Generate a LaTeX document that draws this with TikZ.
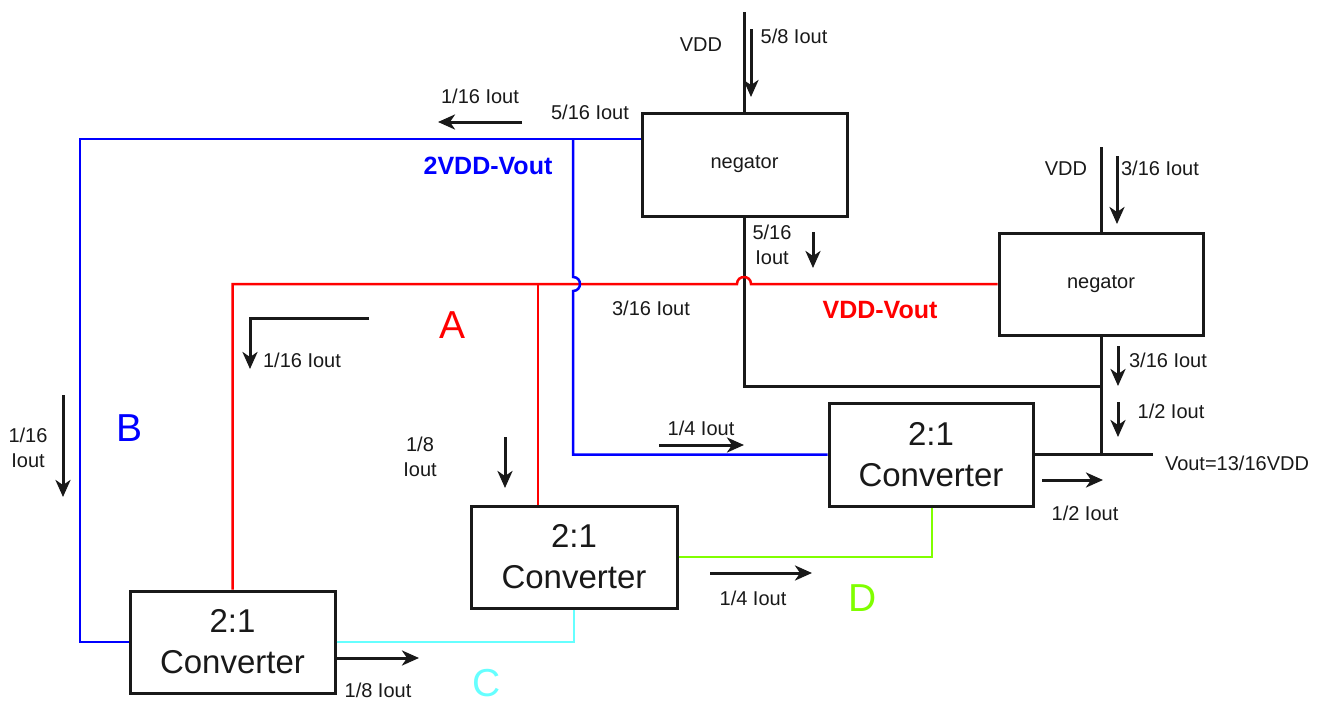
\documentclass[tikz,border=0pt]{standalone}
\usepackage{fontspec}
\setmainfont{Liberation Sans}
\usetikzlibrary{arrows.meta}
\definecolor{wblue}{RGB}{0,0,255}
\definecolor{wred}{RGB}{255,0,0}
\definecolor{wcyan}{RGB}{102,255,255}
\definecolor{wgreen}{RGB}{128,255,0}
\definecolor{ink}{RGB}{25,25,25}
\begin{document}
\begin{tikzpicture}[x=1pt,y=-1pt,
  box/.style={draw=ink, line width=3pt, inner sep=0pt, align=center, text=ink, font=\fontsize{20}{24}\selectfont},
  conv/.style={box, font=\fontsize{33}{41}\selectfont},
  lbl/.style={text=ink, inner sep=0pt, align=center, font=\fontsize{20}{25}\selectfont},
  boldlbl/.style={inner sep=0pt, font=\fontsize{25}{28}\selectfont\bfseries},
  letter/.style={inner sep=0pt, font=\fontsize{39}{40}\selectfont},
  wire/.style={line width=2.5pt},
  blk/.style={draw=ink, line width=3pt},
  arr/.style={ink, line width=3pt, -{Stealth[length=17pt,width=15pt,inset=5pt]}},
]
\useasboundingbox (0,0) rectangle (1318,705);

% boxes
\node[box, minimum width=205, minimum height=103] (neg1) at (744.5,164.5) {negator};
\node[box, minimum width=204, minimum height=102] (neg2) at (1101,284) {negator};
\node[conv, minimum width=204, minimum height=103] (conv3) at (931,454.5) {2:1\\Converter};
\node[conv, minimum width=206, minimum height=102] (conv2) at (574,557) {2:1\\Converter};
\node[conv, minimum width=205, minimum height=102] (conv1) at (232.5,642) {2:1\\Converter};

% helper coordinates
\coordinate (vdd1) at (744.5,12);
\coordinate (vdd2) at (1101,147);
\coordinate (bTL) at (80,139);
\coordinate (bBL) at (80,642);
\coordinate (bj) at (573,139);
\coordinate (bC) at (573,454.5);
\coordinate (rTL) at (232.5,284);
\coordinate (rj) at (538,284);
\coordinate (kC) at (744.5,386);
\coordinate (kj) at (1101,386);
\coordinate (vout) at (1153,454.5);
\coordinate (gC) at (932,557);
\coordinate (cC) at (574,642);

% black wires
\draw[blk] (vdd1) -- (neg1.north);
\draw[blk] (vdd2) -- (neg2.north);
\draw[blk] (neg1.south) -- (kC) -- (kj);
\draw[blk] (neg2.south) -- (neg2.south |- conv3.east);
\draw[blk] (conv3.east) -- (vout);

% red wires
\draw[wire, wred] (conv1.north) -- (rTL) -- (737,284) .. controls (737,274.7) and (751,274.7) .. (751,284) -- (neg2.west);
\draw[wire, wred] (rj) -- (rj |- conv2.north);

% blue wires
\draw[wire, wblue] (neg1.west |- bTL) -- (bTL) -- (bBL) -- (conv1.west);
\draw[wire, wblue] (bj) -- (573,277) .. controls (582.3,277) and (582.3,291) .. (573,291) -- (bC) -- (conv3.west);

% green and cyan
\draw[wire, wgreen] (conv2.east) -- (gC) -- (gC |- conv3.south);
\draw[wire, wcyan] (conv1.east) -- (cC) -- (cC |- conv2.south);

% current arrows
\draw[arr] (751,29) -- (751,97);
\draw[arr] (522,122) -- (438,122);
\draw[arr] (813,232) -- (813,268);
\draw[arr] (1117,156) -- (1117,224);
\draw[arr] (1118,346) -- (1118,386);
\draw[arr] (1118,402) -- (1118,437);
\draw[arr] (1042,480) -- (1103,480);
\draw[arr] (659,445) -- (744,445);
\draw[arr] (505,437) -- (505,488);
\draw[arr] (710,573) -- (812,573);
\draw[arr] (337,658) -- (419,658);
\draw[arr] (63,395) -- (63,497);
\draw[arr] (369,318) -- (250,318) -- (250,369);

% labels
\node[lbl] (l1) at (701,45) {VDD};
\node[lbl] (l2) at (794,36) {5/8 Iout};
\node[lbl] (l3) at (480,96) {1/16 Iout};
\node[lbl] (l4) at (590,112) {5/16 Iout};
\node[boldlbl, text=wblue] (l5) at (488,166) {2VDD-Vout};
\node[lbl] (l6) at (772,245) {5/16\\Iout};
\node[lbl] (l7) at (651,308) {3/16 Iout};
\node[boldlbl, text=wred] (l8) at (880,310) {VDD-Vout};
\node[letter, text=wred] (lA) at (453,325) {A};
\node[lbl] (l9) at (1066,169) {VDD};
\node[lbl] (l10) at (1160,168) {3/16 Iout};
\node[lbl] (l11) at (1168,360) {3/16 Iout};
\node[lbl] (l12) at (1171,411) {1/2 Iout};
\node[lbl] (l13) at (1237,463) {Vout=13/16VDD};
\node[lbl] (l14) at (1085,513) {1/2 Iout};
\node[lbl] (l15) at (701,428) {1/4 Iout};
\node[lbl] (l16) at (753,598) {1/4 Iout};
\node[letter, text=wgreen] (lD) at (863,598) {D};
\node[lbl] (l17) at (420,457) {1/8\\Iout};
\node[lbl] (l18) at (302,360) {1/16 Iout};
\node[letter, text=wblue] (lB) at (130,428) {B};
\node[lbl] (l19) at (28,448) {1/16\\Iout};
\node[lbl] (l20) at (378,690) {1/8 Iout};
\node[letter, text=wcyan] (lC) at (487,683) {C};
\end{tikzpicture}
\end{document}
